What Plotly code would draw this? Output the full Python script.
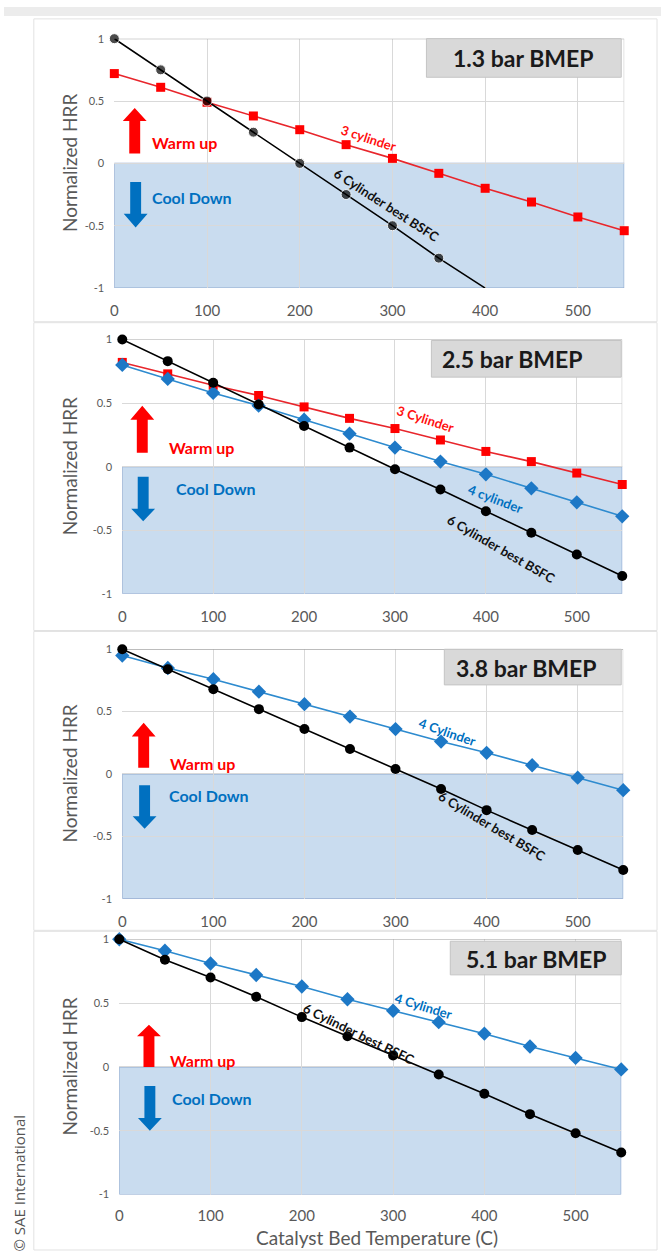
import plotly.graph_objects as go

# ---------------- data ----------------
temps = [0, 50, 100, 150, 200, 250, 300, 350, 400, 450, 500, 550]
temps_p1_six = [0, 50, 100, 150, 200, 250, 300, 350, 400]

p1_six = [1.0, 0.75, 0.5, 0.25, 0.0, -0.25, -0.5, -0.76, -1.0]
p1_three = [0.72, 0.61, 0.49, 0.38, 0.27, 0.15, 0.04, -0.08, -0.20, -0.31, -0.43, -0.54]

p2_six = [1.0, 0.83, 0.66, 0.49, 0.32, 0.15, -0.02, -0.18, -0.35, -0.52, -0.69, -0.86]
p2_three = [0.82, 0.73, 0.64, 0.56, 0.47, 0.38, 0.30, 0.21, 0.12, 0.04, -0.05, -0.14]
p2_four = [0.80, 0.69, 0.58, 0.48, 0.37, 0.26, 0.15, 0.04, -0.06, -0.17, -0.28, -0.39]

p3_six = [1.0, 0.84, 0.68, 0.52, 0.36, 0.20, 0.04, -0.12, -0.29, -0.45, -0.61, -0.77]
p3_four = [0.95, 0.85, 0.76, 0.66, 0.56, 0.46, 0.36, 0.26, 0.17, 0.07, -0.03, -0.13]

p4_six = [1.0, 0.84, 0.70, 0.55, 0.39, 0.24, 0.09, -0.06, -0.21, -0.37, -0.52, -0.67]
p4_four = [1.0, 0.91, 0.81, 0.72, 0.63, 0.53, 0.44, 0.35, 0.26, 0.16, 0.07, -0.02]

panel_titles = ["1.3 bar BMEP", "2.5 bar BMEP", "3.8 bar BMEP", "5.1 bar BMEP"]
x_ticks = [0, 100, 200, 300, 400, 500]
y_ticks = [-1, -0.5, 0, 0.5, 1]
y_tick_text = ["-1", "-0.5", "0", "0.5", "1"]

# ---------------- styling ----------------
W, H = 661, 1255
FONT = "Lato"
GRAY_TXT = "#595959"
RED = "#ff1010"
RED_LINE = "#e8262c"
BLUE = "#0070c0"
BLUE_LINE = "#2e8bcf"
BLUE_MK = "#1d78c6"
SHADE = "#c9dcef"
SHADE_LINE = "#8fa9cf"


def px(x):
    return x / W


def py(y):
    return 1 - y / H


# plot areas in pixels (left, right, top, bottom)
areas = [
    (111, 624, 32, 284),
    (119, 622, 336, 593),
    (119, 623, 649, 901),
    (116, 621, 942, 1200),
]
tick_lens = [9, 9, 9, 7]
panels = [(30, 657, 12, 318), (30, 657, 319, 630), (30, 657, 631, 933), (30, 657, 934, 1256)]
title_boxes = [(425, 621, 32, 71), (430, 621, 337, 374), (443, 621, 649, 685), (449, 621, 944, 978)]
title_centers = [(522, 52), (511, 356), (525, 668), (535, 962)]

fig = go.Figure()
shapes = []
annotations = []

# page background strip and panels
shapes.append(dict(type="rect", xref="paper", yref="paper", x0=0, x1=1, y0=py(9), y1=1,
                   fillcolor="#ececec", line=dict(width=0), layer="below"))
for (l, r, t, b) in panels:
    shapes.append(dict(type="rect", xref="paper", yref="paper", x0=px(l), x1=px(r), y0=py(b), y1=py(t),
                       fillcolor="white", line=dict(color="#e2e2e2", width=1), layer="below"))

layout_axes = {}
for i, (l, r, t, b) in enumerate(areas):
    n = "" if i == 0 else str(i + 1)
    layout_axes["xaxis" + n] = dict(
        domain=[px(l), px(r)], anchor="y" + n, range=[0, 550],
        tickvals=x_ticks, ticks="outside", ticklen=tick_lens[i], tickcolor="rgba(0,0,0,0)",
        tickfont=dict(family=FONT, size=15, color=GRAY_TXT),
        showgrid=True, gridcolor="#d9d9d9", gridwidth=1, zeroline=False, showline=False,
        fixedrange=True,
    )
    layout_axes["yaxis" + n] = dict(
        domain=[py(b), py(t)], anchor="x" + n, range=[-1, 1],
        tickvals=y_ticks, ticktext=y_tick_text, ticks="outside", ticklen=7,
        tickcolor="rgba(0,0,0,0)",
        tickfont=dict(family=FONT, size=11, color=GRAY_TXT),
        showgrid=True, gridcolor="#d9d9d9", gridwidth=1, zeroline=False, showline=False,
        fixedrange=True,
    )
    xr = "x" + n
    yr = "y" + n
    # blue cool-down shading
    shapes.append(dict(type="rect", xref=xr, yref=yr, x0=0, x1=550, y0=-1, y1=0,
                       fillcolor=SHADE, line=dict(color=SHADE_LINE, width=1.2), layer="below"))
    # top and right frame of warm region
    shapes.append(dict(type="line", xref=xr, yref=yr, x0=0, x1=550, y0=1, y1=1,
                       line=dict(color="#a6a6a6", width=1.2), layer="between"))
    shapes.append(dict(type="line", xref=xr, yref=yr, x0=550, x1=550, y0=0, y1=1,
                       line=dict(color="#bfbfbf", width=1), layer="between"))
    # y axis title
    annotations.append(dict(text="Normalized HRR", xref="paper", yref="paper",
                            x=px(66), y=py((t + b) / 2), xanchor="center", yanchor="middle",
                            textangle=-90, showarrow=False,
                            font=dict(family=FONT, size=19, color=GRAY_TXT)))
    # title box
    bl, br, bt, bb = title_boxes[i]
    shapes.append(dict(type="rect", xref="paper", yref="paper", x0=px(bl), x1=px(br),
                       y0=py(bb), y1=py(bt), fillcolor="#d9d9d9",
                       line=dict(color="#c4c4c4", width=1), layer="above"))
    cx, cy = title_centers[i]
    annotations.append(dict(text="<b>%s</b>" % panel_titles[i], xref="paper", yref="paper",
                            x=px(cx), y=py(cy), xanchor="center", yanchor="middle",
                            showarrow=False,
                            font=dict(family=FONT, size=23, color="#1a1a1a")))


def arrow(xr, yr, xc, y_tail, y_hb, y_tip, ppx, color, hs_px=5.5, hh_px=12):
    hs = hs_px / ppx
    hh = hh_px / ppx
    path = ("M {a},{t} L {a},{hb} L {c},{hb} L {x},{tip} L {d},{hb} L {b},{hb} L {b},{t} Z"
            .format(a=xc - hs, b=xc + hs, c=xc - hh, d=xc + hh, x=xc, t=y_tail, hb=y_hb, tip=y_tip))
    return dict(type="path", xref=xr, yref=yr, path=path, fillcolor=color,
                line=dict(width=0), layer="above")


# arrows: (xc, red tail, red head base, red tip, blue tail, blue head base, blue tip, "Warm up" pos, "Cool Down" pos)
arrow_specs = [
    (22, 0.08, 0.34, 0.445, -0.15, -0.405, -0.515, (38, 0.17), (38, -0.27)),
    (22, 0.11, 0.37, 0.48, -0.08, -0.33, -0.43, (49, 0.15), (57, -0.175)),
    (23.5, 0.05, 0.30, 0.41, -0.09, -0.34, -0.44, (50, 0.087), (49, -0.17)),
    (32.5, 0.0, 0.24, 0.33, -0.15, -0.40, -0.50, (53, 0.05), (56, -0.25)),
]
for i, spec in enumerate(arrow_specs):
    n = "" if i == 0 else str(i + 1)
    l, r, t, b = areas[i]
    ppx = (r - l) / 550.0
    xc, rt, rhb, rtip, bt_, bhb, btip, wpos, cpos = spec
    shapes.append(arrow("x" + n, "y" + n, xc, rt, rhb, rtip, ppx, "#ff0000"))
    shapes.append(arrow("x" + n, "y" + n, xc + 1, bt_, bhb, btip, ppx, BLUE))
    annotations.append(dict(text="<b>Warm up</b>", xref="x" + n, yref="y" + n, x=wpos[0], y=wpos[1],
                            xanchor="left", yanchor="middle", showarrow=False,
                            font=dict(family=FONT, size=16, color="#ff0000")))
    annotations.append(dict(text="<b>Cool Down</b>", xref="x" + n, yref="y" + n, x=cpos[0], y=cpos[1],
                            xanchor="left", yanchor="middle", showarrow=False,
                            font=dict(family=FONT, size=16, color=BLUE)))


def add_series(xs, ys, axis_n, color, line_color, symbol, size):
    fig.add_trace(go.Scatter(
        x=xs, y=ys, mode="lines+markers", xaxis="x" + axis_n, yaxis="y" + axis_n,
        line=dict(color=line_color, width=1.6),
        marker=dict(color=color, symbol=symbol, size=size), cliponaxis=False,
        showlegend=False, hoverinfo="skip"))


# panel 1
add_series(temps, p1_three, "", "#ff0000", RED_LINE, "square", 9)
add_series(temps_p1_six, p1_six, "", "#000000", "#000000", "circle",
           [10] * (len(p1_six) - 1) + [0])
# panel 2
add_series(temps, p2_three, "2", "#ff0000", RED_LINE, "square", 9)
add_series(temps, p2_four, "2", BLUE_MK, BLUE_LINE, "diamond", 11)
add_series(temps, p2_six, "2", "#000000", "#000000", "circle", 10)
# panel 3
add_series(temps, p3_four, "3", BLUE_MK, BLUE_LINE, "diamond", 11)
add_series(temps, p3_six, "3", "#000000", "#000000", "circle", 10)
# panel 4
add_series(temps, p4_four, "4", BLUE_MK, BLUE_LINE, "diamond", 11)
add_series(temps, p4_six, "4", "#000000", "#000000", "circle", 10)

# series labels
labels = [
    ("", "3 cylinder", 274, 0.20, 18, RED),
    ("", "6 Cylinder best BSFC", 294, -0.33, 33, "#111111"),
    ("2", "3 Cylinder", 334, 0.377, 18, RED),
    ("2", "4 cylinder", 411, -0.253, 21, BLUE),
    ("2", "6 Cylinder best BSFC", 417, -0.65, 30, "#111111"),
    ("3", "4 Cylinder", 357, 0.34, 19, BLUE),
    ("3", "6 Cylinder best BSFC", 406, -0.42, 31, "#111111"),
    ("4", "4 Cylinder", 333, 0.48, 17, BLUE),
    ("4", "6 Cylinder best BSFC", 263, 0.26, 26, "#111111"),
]
for n, txt, x, y, ang, col in labels:
    annotations.append(dict(text="<b>%s</b>" % txt, xref="x" + n, yref="y" + n, x=x, y=y,
                            xanchor="center", yanchor="middle",
                            textangle=ang, showarrow=False,
                            font=dict(family=FONT, size=13, color=col)))

# x axis title and copyright
annotations.append(dict(text="Catalyst Bed Temperature (C)", xref="paper", yref="paper",
                        x=px(375), y=py(1243), xanchor="center", yanchor="middle", showarrow=False,
                        font=dict(family=FONT, size=19, color=GRAY_TXT)))
annotations.append(dict(text="© SAE International", xref="paper", yref="paper",
                        x=px(15), y=py(1188), xanchor="center", yanchor="middle",
                        textangle=-90, showarrow=False,
                        font=dict(family="Open Sans", size=15, color="#555555")))

fig.update_layout(
    width=W, height=H, margin=dict(l=0, r=0, t=0, b=0),
    paper_bgcolor="white", plot_bgcolor="rgba(0,0,0,0)",
    shapes=shapes, annotations=annotations, showlegend=False,
    **layout_axes,
)

fig.write_html("out.html")
